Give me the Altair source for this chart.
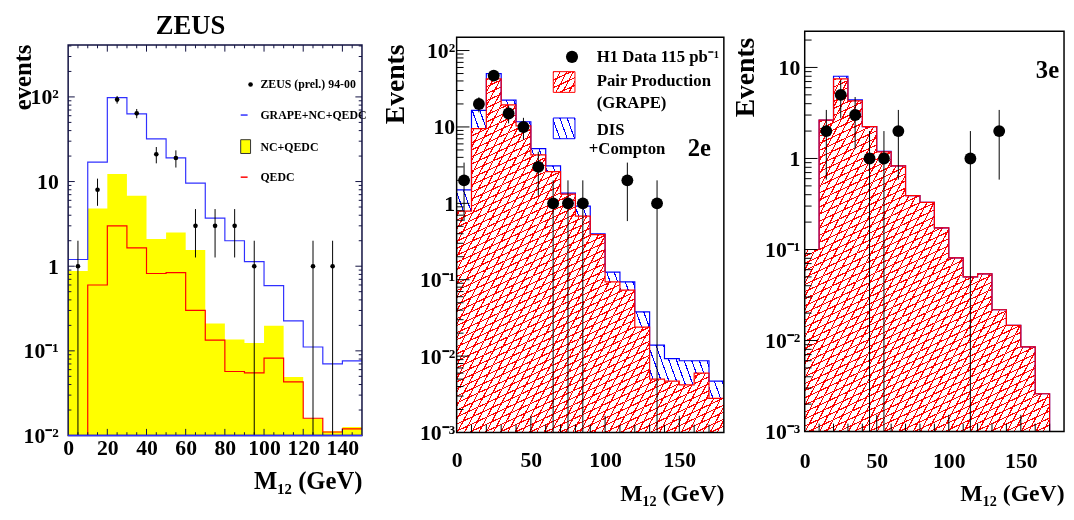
import math
import pandas as pd
import altair as alt

FONT = "Liberation Serif"
NB = "\u00a0"
RED = "#ff0000"
BLUE = "#0000ff"
ZBLUE = "#3030ff"
YELLOW = "#ffff00"

# ---------------- values ----------------
# ZEUS, 10 GeV bins 0..150
zeus_edges = [0, 10, 20, 30, 40, 50, 60, 70, 80, 90, 100, 110, 120, 130, 140, 150]
zeus_total = [1.2, 17, 98, 63, 32, 19, 9.6, 3.7, 2.0, 1.13, 0.59, 0.226, 0.111, 0.070, 0.076]
zeus_nc_qedc = [0.88, 4.8, 12.3, 6.8, 2.1, 2.5, 1.55, 0.21, 0.136, 0.124, 0.198, 0.049, 0.0159, 0.0112, 0.0126]
zeus_qedc = [0, 0.60, 3.0, 1.65, 0.82, 0.84, 0.30, 0.134, 0.057, 0.055, 0.082, 0.043, 0.016, 0.011, 0.012]
zeus_x = [5, 15, 25, 35, 45, 55, 65, 75, 85, 95, 125, 135]
zeus_n = [1, 8, 93, 64, 21, 19, 3, 3, 3, 1, 1, 1]

# H1 2e, 10 GeV bins 0..180
h1_2e_edges = [0, 10, 20, 30, 40, 50, 60, 70, 80, 90, 100, 110, 120, 130, 140, 150, 160, 170, 180]
h1_2e_grape = [0.79, 9.5, 42.5, 19.5, 10.3, 4.3, 2.6, 1.32, 0.68, 0.39, 0.094, 0.073, 0.024,
               0.005, 0.0047, 0.0042, 0.006, 0.0028]
h1_2e_total = [1.5, 16.5, 50, 22.5, 11.7, 5.2, 3.1, 1.36, 0.92, 0.40, 0.126, 0.094, 0.038,
               0.0139, 0.0093, 0.0087, 0.0087, 0.0047]
h1_2e_x = [5, 15, 25, 35, 45, 55, 65, 75, 85, 115, 135]
h1_2e_n = [2, 20, 47, 15, 10, 3, 1, 1, 1, 2, 1]

# H1 3e, 10 GeV bins 0..170
h1_3e_edges = [0, 10, 20, 30, 40, 50, 60, 70, 80, 90, 100, 110, 120, 130, 140, 150, 160, 170]
h1_3e_grape = [0.1, 2.64, 7.5, 4.3, 2.24, 1.18, 0.83, 0.39, 0.33, 0.173, 0.081, 0.050, 0.054,
               0.0218, 0.0147, 0.0085, 0.0026]
h1_3e_total = [0.1, 2.64, 8.0, 4.4, 2.24, 1.2, 0.83, 0.39, 0.33, 0.173, 0.081, 0.050, 0.054,
               0.0218, 0.0147, 0.0085, 0.0026]
h1_3e_x = [15, 25, 35, 45, 55, 65, 115, 135]
h1_3e_n = [2, 5, 3, 1, 1, 2, 1, 2]

zeus_ylabels = {0.01: "10\u207b\u00b2", 0.1: "10\u207b\u00b9", 1: "1" + NB * 3, 10: "10" + NB * 2, 100: "10\u00b2"}
h1_ylabels = {0.001: "10\u207b\u00b3", 0.01: "10\u207b\u00b2", 0.1: "10\u207b\u00b9",
              1: "1" + NB * 3, 10: "10" + NB * 3, 100: "10\u00b2"}
X_TITLE = "M\u2081\u2082 (GeV)"


# ---------------- helpers ----------------
def hist_df(edges, values, floor, base, close=False):
    xs = list(edges)
    ys = [max(v, floor) for v in list(values) + [values[-1]]]
    if close:
        xs.append(edges[-1])
        ys.append(floor)
    return pd.DataFrame({"x": xs, "y": ys, "b": base, "i": range(len(xs))})


def band_df(edges, lo, hi):
    return pd.DataFrame({"x": edges, "lo": list(lo) + [lo[-1]], "hi": list(hi) + [hi[-1]]})


def data_df(xs, ns, floor):
    return pd.DataFrame({
        "x": xs, "n": ns,
        "lo": [max(n - math.sqrt(n), floor) for n in ns],
        "hi": [n + math.sqrt(n) for n in ns],
    })


def hatch(color, angle, box_w, box_h, spacing=6.5, lw=1.1):
    # stripes of `color` on white at `angle` degrees (pixel space) across a box_w x box_h box
    a = math.radians(angle)
    A, B = box_w * math.sin(a), box_h * math.cos(a)
    k = (abs(A) + abs(B)) / (A * A + B * B)
    x1 = 1.0 if A < 0 else 0.0
    y1 = 1.0 if B < 0 else 0.0
    n = max(1, round((abs(A) + abs(B)) / spacing))
    f = lw / spacing
    stops = []
    for i in range(n):
        s, e = i / n, (i + f) / n
        stops += [alt.GradientStop(offset=round(s, 5), color=color),
                  alt.GradientStop(offset=round(e, 5), color=color),
                  alt.GradientStop(offset=round(e, 5), color="white"),
                  alt.GradientStop(offset=round((i + 1) / n, 5), color="white")]
    return alt.LinearGradient(gradient="linear", stops=stops,
                              x1=x1, y1=y1, x2=x1 + k * A, y2=y1 + k * B)


def log_ticks(lo, hi):
    major, minor = [], []
    for d in range(-4, 4):
        for m in range(1, 10):
            v = round(m * 10 ** d, 6)
            if lo < v < hi:
                (major if m == 1 else minor).append(v)
    return major, minor


def label_expr(labels):
    expr = "''"
    for v, t in labels.items():
        expr = f"datum.value == {v} ? '{t}' : " + expr
    return expr


def ypx(p, v):
    lo, hi = math.log10(p["ydom"][0]), math.log10(p["ydom"][1])
    return p["H"] * (hi - math.log10(v)) / (hi - lo)


def yval(p, px):
    lo, hi = math.log10(p["ydom"][0]), math.log10(p["ydom"][1])
    return 10 ** (hi - px / p["H"] * (hi - lo))


def encoders(p):
    labels = {v: t for v, t in p["ylabels"].items() if p["ydom"][0] <= v <= p["ydom"][1]}
    xaxis = alt.Axis(values=p["xlabels"], format="d", labelFontSize=22, labelPadding=p["xpad"],
                     labelFlush=False, labelOverlap=False, ticks=False, tickSize=0, domain=False,
                     grid=False, title=X_TITLE, titleFontSize=p["xt_size"], titleX=p["W"],
                     titleY=p["xt_y"], titleAlign="right", titleBaseline="alphabetic")
    yaxis = alt.Axis(values=list(labels.keys()), labelExpr=label_expr(labels),
                     labelFontSize=22, labelPadding=p["ypad"], labelFlush=False, labelOverlap=False,
                     labelBound=False, ticks=False, tickSize=0, domain=False, grid=False,
                     title=p["ytitle"], titleFontSize=p["yt_size"], titleAngle=270, titleAlign="right",
                     titleBaseline="alphabetic", titleX=p["yt_x"], titleY=p["yt_y"])

    def X(field):
        return alt.X(f"{field}:Q", scale=alt.Scale(domain=p["xdom"], nice=False, zero=False), axis=xaxis)

    def Y(field):
        return alt.Y(f"{field}:Q", scale=alt.Scale(type="log", domain=p["ydom"], nice=False), axis=yaxis)

    return X, Y


def tick_layers(p, X, Y, xmaj, xmin, lx, ly, mirror=False, color="black"):
    W, H, top = p["W"], p["H"], p["ftop"]
    ymaj, ymin = log_ticks(p["ydom"][0], yval(p, top))
    out = []
    for vals, L in ((xmaj, lx[0]), (xmin, lx[1])):
        base = alt.Chart(pd.DataFrame({"v": vals})).mark_rule(color=color, strokeWidth=1)
        out.append(base.encode(x=X("v"), y=alt.value(H), y2=alt.value(H - L)))
        if mirror:
            out.append(base.encode(x=X("v"), y=alt.value(top), y2=alt.value(top + L)))
    for vals, L in ((ymaj, ly[0]), (ymin, ly[1])):
        base = alt.Chart(pd.DataFrame({"v": vals})).mark_rule(color=color, strokeWidth=1)
        out.append(base.encode(y=Y("v"), x=alt.value(0), x2=alt.value(L)))
        if mirror:
            out.append(base.encode(y=Y("v"), x=alt.value(W - L), x2=alt.value(W)))
    return out


ONE = pd.DataFrame({"a": [0]})


def label(text, x, y, size, align="left", baseline="middle"):
    return alt.Chart(ONE).mark_text(text=text, font=FONT, fontWeight="bold", fontSize=size,
                                    align=align, baseline=baseline, color="black").encode(
        x=alt.value(x), y=alt.value(y))


def frame(p, color="black"):
    return alt.Chart(ONE).mark_rect(filled=False, stroke=color, strokeWidth=1.5).encode(
        x=alt.value(0), x2=alt.value(p["W"]), y=alt.value(p["ftop"]), y2=alt.value(p["H"]))


# ---------------- ZEUS panel ----------------
# the view starts 14 px above the drawn frame so that the three frames keep their own tops
P1 = dict(W=298, H=410, ftop=14, xdom=[0, 150], ydom=[0.01, 597], xlabels=list(range(0, 150, 20)),
          xpad=2, xt_size=25, xt_y=54, ylabels=zeus_ylabels, ypad=10, ytitle="events",
          yt_size=25, yt_x=-38, yt_y=13)
X1, Y1 = encoders(P1)
f1 = P1["ydom"][0] / 2
t1 = P1["ftop"]

zeus_layers = [
    alt.Chart(hist_df(zeus_edges, zeus_nc_qedc, f1, P1["ydom"][0])).mark_area(
        interpolate="step-after", orient="vertical", fill=YELLOW, opacity=1).encode(
        x=X1("x"), y=Y1("y"), y2=alt.Y2("b")),
    alt.Chart(hist_df(zeus_edges, zeus_qedc, f1, P1["ydom"][0])).mark_line(
        interpolate="step-after", color=RED, strokeWidth=1.2, clip=True).encode(
        x=X1("x"), y=Y1("y"), order="i:Q"),
    alt.Chart(hist_df(zeus_edges, zeus_total, f1, P1["ydom"][0])).mark_line(
        interpolate="step-after", color=ZBLUE, strokeWidth=1.2, clip=True).encode(
        x=X1("x"), y=Y1("y"), order="i:Q"),
]
zeus_layers += tick_layers(P1, X1, Y1, list(range(20, 150, 20)),
                           [v for v in range(5, 150, 5) if v % 20], (6.7, 3.3), (6.7, 3.3),
                           mirror=True, color="#101040")
zd = data_df(zeus_x, zeus_n, f1)
zeus_layers += [
    alt.Chart(zd).mark_rule(color="black", strokeWidth=1, clip=True).encode(
        x=X1("x"), y=Y1("lo"), y2=alt.Y2("hi")),
    alt.Chart(zd).mark_circle(size=22, color="black", opacity=1).encode(x=X1("x"), y=Y1("n")),
    # legend
    alt.Chart(ONE).mark_circle(size=22, color="black", opacity=1).encode(
        x=alt.value(185), y=alt.value(t1 + 40)),
    alt.Chart(ONE).mark_rule(color=ZBLUE, strokeWidth=1.5).encode(
        x=alt.value(175), x2=alt.value(182), y=alt.value(t1 + 71)),
    alt.Chart(ONE).mark_rect(fill=YELLOW, stroke="#333333", strokeWidth=1).encode(
        x=alt.value(175), x2=alt.value(185), y=alt.value(t1 + 96), y2=alt.value(t1 + 110)),
    alt.Chart(ONE).mark_rule(color=RED, strokeWidth=1.5).encode(
        x=alt.value(175), x2=alt.value(182), y=alt.value(t1 + 134)),
    label("ZEUS (prel.) 94-00", 195, t1 + 40, 12),
    label("GRAPE+NC+QEDC", 195, t1 + 71, 12),
    label("NC+QEDC", 195, t1 + 103, 12),
    label("QEDC", 195, t1 + 134, 12),
    label("ZEUS", 124, 3, 27, align="center", baseline="alphabetic"),
    frame(P1, "#101040"),
    # the GRAPE+NC+QEDC histogram is closed along the bottom of the frame
    alt.Chart(ONE).mark_rule(color=ZBLUE, strokeWidth=1.5).encode(
        x=alt.value(0), x2=alt.value(P1["W"]), y=alt.value(P1["H"])),
]
panel1 = alt.layer(*zeus_layers).properties(width=P1["W"], height=P1["H"])


# ---------------- H1 panels ----------------
def h1_panel(p, edges, grape, total, xs, ns, extra):
    X, Y = encoders(p)
    fl = p["ydom"][0] / 2
    base = p["ydom"][0]
    box_w = p["W"] * (edges[-1] - p["xdom"][0]) / (p["xdom"][1] - p["xdom"][0])
    red_h = p["H"] - ypx(p, max(grape))
    band_h = ypx(p, min(grape)) - ypx(p, max(total))
    red = hist_df(edges, grape, fl, base)
    # areas stay inside the view, so they are not clipped (a clip group would isolate the blend)
    area = dict(interpolate="step-after", orient="vertical", opacity=1)
    close = edges[-1] < p["xdom"][1]
    layers = [
        alt.Chart(red).mark_area(fill=hatch(RED, 25, box_w, red_h), **area).encode(
            x=X("x"), y=Y("y"), y2=alt.Y2("b")),
        # second hatch direction, multiplied over the first to give the cross-hatch
        alt.Chart(red).mark_area(fill=hatch(RED, 62, box_w, red_h), blend="multiply", **area).encode(
            x=X("x"), y=Y("y"), y2=alt.Y2("b")),
        alt.Chart(band_df(edges, grape, total)).mark_area(
            fill=hatch(BLUE, -70, box_w, band_h, spacing=7.2), **area).encode(
            x=X("x"), y=Y("hi"), y2=alt.Y2("lo")),
        alt.Chart(hist_df(edges, total, fl, base, close=close)).mark_line(
            interpolate="step-after", color=BLUE, strokeWidth=1.2, clip=True).encode(
            x=X("x"), y=Y("y"), order="i:Q"),
        alt.Chart(hist_df(edges, grape, fl, base, close=close)).mark_line(
            interpolate="step-after", color=RED, strokeWidth=1.2, clip=True).encode(
            x=X("x"), y=Y("y"), order="i:Q"),
    ]
    layers += tick_layers(p, X, Y, [50, 100, 150],
                          [v for v in range(10, 180, 10) if v % 50], (17, 8), (13, 7))
    d = data_df(xs, ns, fl)
    layers += [
        alt.Chart(d).mark_rule(color="black", strokeWidth=1, clip=True).encode(
            x=X("x"), y=Y("lo"), y2=alt.Y2("hi")),
        alt.Chart(d).mark_circle(size=145, color="black", opacity=1).encode(x=X("x"), y=Y("n")),
    ]
    layers += extra
    layers.append(frame(p))
    return alt.layer(*layers).properties(width=p["W"], height=p["H"])


P2 = dict(W=271, H=407, ftop=6, xdom=[0, 180], ydom=[0.001, 179], xlabels=[0, 50, 100, 150],
          xpad=17, xt_size=24, xt_y=69, ylabels=h1_ylabels, ypad=2, ytitle="Events",
          yt_size=28, yt_x=-54, yt_y=13)
P3 = dict(W=263, H=406, ftop=0, xdom=[0, 180], ydom=[0.001, 25], xlabels=[0, 50, 100, 150],
          xpad=19, xt_size=24, xt_y=70, ylabels=h1_ylabels, ypad=5, ytitle="Events",
          yt_size=28, yt_x=-52, yt_y=6)
t2 = P2["ftop"]

legend2 = [
    alt.Chart(ONE).mark_circle(size=150, color="black", opacity=1).encode(
        x=alt.value(117), y=alt.value(t2 + 20)),
    alt.Chart(ONE).mark_rect(fill=hatch(RED, 25, 22, 21), stroke=RED, strokeWidth=1).encode(
        x=alt.value(98), x2=alt.value(120), y=alt.value(t2 + 35), y2=alt.value(t2 + 56)),
    alt.Chart(ONE).mark_rect(fill=hatch(RED, 62, 22, 21), blend="multiply").encode(
        x=alt.value(98), x2=alt.value(120), y=alt.value(t2 + 35), y2=alt.value(t2 + 56)),
    alt.Chart(ONE).mark_rect(fill=hatch(BLUE, -70, 22, 21, spacing=7.2), stroke=BLUE,
                             strokeWidth=1).encode(
        x=alt.value(98), x2=alt.value(120), y=alt.value(t2 + 82), y2=alt.value(t2 + 103)),
    label("H1 Data 115 pb\u207b\u00b9", 142, t2 + 20, 17),
    label("Pair Production", 142, t2 + 45, 17),
    label("(GRAPE)", 142, t2 + 67, 17),
    label("DIS", 142, t2 + 94, 17),
    label("+Compton", 134, t2 + 114, 17),
    label("2e", 258, t2 + 113, 25, align="right"),
]
panel2 = h1_panel(P2, h1_2e_edges, h1_2e_grape, h1_2e_total, h1_2e_x, h1_2e_n, legend2)
panel3 = h1_panel(P3, h1_3e_edges, h1_3e_grape, h1_3e_total, h1_3e_x, h1_3e_n,
                  [label("3e", 258, 39, 25, align="right")])

chart = alt.hconcat(alt.hconcat(panel1, panel2, spacing=13), panel3, spacing=5).properties(
    padding={"left": 2, "top": 0, "right": 0, "bottom": 0}
).configure_view(stroke="transparent").configure_axis(
    labelFont=FONT, labelFontWeight="bold", labelColor="black",
    titleFont=FONT, titleFontWeight="bold", titleColor="black",
)

chart.save("out.html", embed_options={"renderer": "svg", "actions": False})
